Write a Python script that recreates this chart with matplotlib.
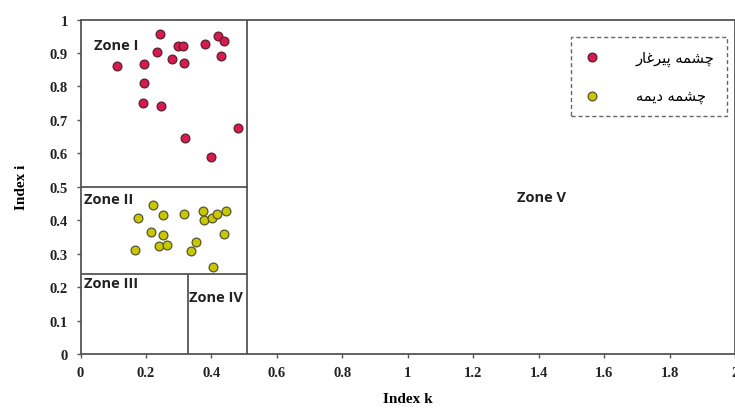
import matplotlib
matplotlib.use('Agg')
from matplotlib import pyplot as plt

# چشمه پیرغار (red) points: index k, index i
pirghar_k = [0.242, 0.111, 0.195, 0.233, 0.280, 0.315, 0.298, 0.313, 0.379,
             0.420, 0.438, 0.430, 0.195, 0.190, 0.247, 0.482, 0.319, 0.400]
pirghar_i = [0.957, 0.862, 0.867, 0.902, 0.882, 0.870, 0.920, 0.920, 0.927,
             0.950, 0.937, 0.890, 0.810, 0.750, 0.741, 0.675, 0.645, 0.588]

# چشمه دیمه (yellow) points
dimeh_k = [0.222, 0.175, 0.251, 0.317, 0.375, 0.378, 0.401, 0.416, 0.446,
           0.215, 0.253, 0.241, 0.263, 0.168, 0.353, 0.337, 0.439, 0.406]
dimeh_i = [0.445, 0.406, 0.416, 0.419, 0.428, 0.401, 0.407, 0.419, 0.427,
           0.364, 0.356, 0.322, 0.326, 0.312, 0.334, 0.307, 0.359, 0.259]

# legend labels, Arabic presentation forms in visual (left-to-right) order
label_pirghar = '\uFEAD\uFE8E\uFECF\uFEAE\uFBFF\uFB58 \uFEEA\uFEE4\uFEB8\uFB7C'
label_dimeh = '\uFEEA\uFEE4\uFBFE\uFEA9 \uFEEA\uFEE4\uFEB8\uFB7C'

x_ticks = [0, 0.2, 0.4, 0.6, 0.8, 1, 1.2, 1.4, 1.6, 1.8, 2]
x_ticklabels = ['0', '0.2', '0.4', '0.6', '0.8', '1', '1.2', '1.4', '1.6', '1.8', '2']
y_ticks = [0, 0.1, 0.2, 0.3, 0.4, 0.5, 0.6, 0.7, 0.8, 0.9, 1]
y_ticklabels = ['0', '0.1', '0.2', '0.3', '0.4', '0.5', '0.6', '0.7', '0.8', '0.9', '1']

# zone boundaries
k_split = 0.51
k_split_low = 0.33
i_split = 0.5
i_split_low = 0.24

line_col = '#555555'

fig = plt.figure(figsize=(7.35, 4.1), dpi=100)
ax = fig.add_axes([80.5 / 735, 55 / 410, 654.5 / 735, 334.5 / 410])

ax.scatter(pirghar_k, pirghar_i, s=40, color='#d81b4c', edgecolors='#5a2030',
           linewidths=0.9, zorder=3, label=label_pirghar)
ax.scatter(dimeh_k, dimeh_i, s=40, color='#c9c800', edgecolors='#555533',
           linewidths=0.9, zorder=3, label=label_dimeh)

ax.plot([k_split, k_split], [0, 1], color=line_col, lw=1.3)
ax.plot([0, k_split], [i_split, i_split], color=line_col, lw=1.3)
ax.plot([0, k_split], [i_split_low, i_split_low], color=line_col, lw=1.3)
ax.plot([k_split_low, k_split_low], [0, i_split_low], color=line_col, lw=1.3)

zfont = dict(family='Open Sans', fontweight='bold', fontsize=10.5, color='#222222')
ax.text(0.042, 0.925, 'Zone I', va='center', **zfont)
ax.text(0.01, 0.462, 'Zone II', va='center', **zfont)
ax.text(0.01, 0.212, 'Zone III', va='center', **zfont)
ax.text(0.332, 0.17, 'Zone IV', va='center', **zfont)
ax.text(1.335, 0.47, 'Zone V', va='center', **zfont)

ax.set_xlim(0, 2)
ax.set_ylim(0, 1)
ax.set_xticks(x_ticks)
ax.set_xticklabels(x_ticklabels)
ax.set_yticks(y_ticks)
ax.set_yticklabels(y_ticklabels)
for lab in ax.get_xticklabels() + ax.get_yticklabels():
    lab.set_family('Liberation Serif')
    lab.set_fontweight('bold')
    lab.set_fontsize(10.5)
    lab.set_color('#222222')
ax.tick_params(direction='out', length=3, width=1, color=line_col, pad=6)
for sp in ax.spines.values():
    sp.set_color(line_col)
    sp.set_linewidth(1.3)

ax.set_xlabel('Index k', family='Liberation Serif', fontweight='bold', fontsize=11,
              labelpad=9)
ax.set_ylabel('Index i', family='Liberation Serif', fontweight='bold', fontsize=11,
              labelpad=16)

leg = ax.legend(loc='upper right', bbox_to_anchor=(0.988, 0.948), borderaxespad=0,
                prop={'family': 'DejaVu Sans', 'size': 10.5}, handletextpad=2.4,
                borderpad=0.85, labelspacing=1.55, fancybox=False, framealpha=1,
                handlelength=1.2, handleheight=0.7)
leg.get_frame().set_linestyle((0, (3, 2)))
leg.get_frame().set_edgecolor('#666666')
leg.get_frame().set_linewidth(1.0)

fig.savefig('out.png', dpi=100)
